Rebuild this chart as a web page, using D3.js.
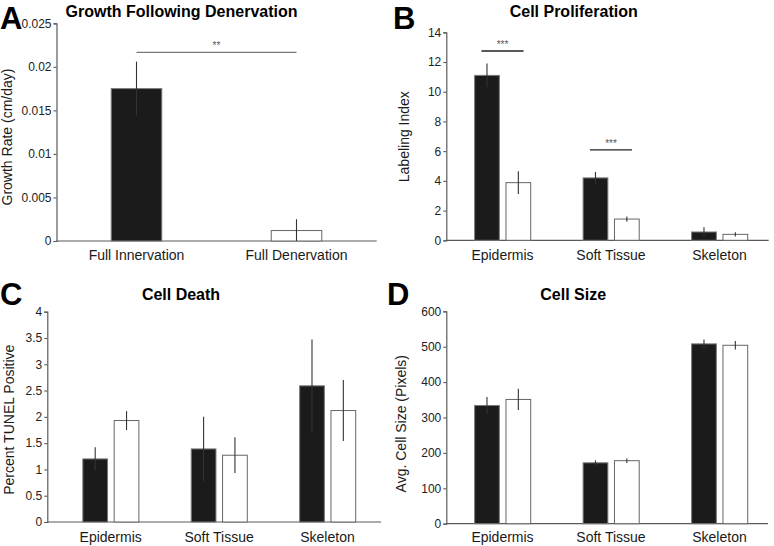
<!DOCTYPE html>
<html>
<head>
<meta charset="utf-8">
<script src="https://cdn.jsdelivr.net/npm/d3@7"></script>
<style>
  html, body { margin: 0; padding: 0; background: #fff; }
  svg { display: block; font-family: "Liberation Sans", Arial, sans-serif; }
</style>
</head>
<body>
<svg id="chart" width="774" height="546"></svg>
<script>
// ---------------- DATA ----------------
// Panel A
const growthCategories = ["Full Innervation", "Full Denervation"];
const growthMean = [0.0175, 0.0012];
const growthErr = [0.0031, 0.0013];
const growthTicks = [0, 0.005, 0.01, 0.015, 0.02, 0.025];
const growthTickLabels = ["0", "0.005", "0.01", "0.015", "0.02", "0.025"];

// Shared tissue categories
const tissueCategories = ["Epidermis", "Soft Tissue", "Skeleton"];

// Panel B
const prolifInnervated = [11.1, 4.2, 0.56];
const prolifInnervatedErr = [0.8, 0.4, 0.31];
const prolifDenervated = [3.88, 1.43, 0.40];
const prolifDenervatedErr = [0.77, 0.18, 0.14];
const prolifTicks = [0, 2, 4, 6, 8, 10, 12, 14];

// Panel C
const deathInnervated = [1.20, 1.39, 2.59];
const deathInnervatedErr = [0.22, 0.61, 0.88];
const deathDenervated = [1.93, 1.27, 2.12];
const deathDenervatedErr = [0.18, 0.34, 0.58];
const deathTicks = [0, 0.5, 1, 1.5, 2, 2.5, 3, 3.5, 4];

// Panel D
const sizeInnervated = [334, 172, 508];
const sizeInnervatedErr = [24, 7, 12];
const sizeDenervated = [351, 178, 504];
const sizeDenervatedErr = [30, 6.5, 12];
const sizeTicks = [0, 100, 200, 300, 400, 500, 600];

// ---------------- DRAWING ----------------
const svg = d3.select("#chart");
const BAR_DARK = "#1b1b1b";
const DARK_STROKE = "#7a7a7a";
const WHITE_STROKE = "#666";
const AXIS_COL = "#5a5a5a";
const TEXT_COL = "#1a1a1a";

function drawPanel(cfg) {
  const g = svg.append("g");
  const y = d3.scaleLinear().domain(cfg.yDomain).range([cfg.y0, cfg.yTop]);
  const x = d3.scaleBand().domain(cfg.categories).range(cfg.bandRange).padding(0);
  const bw = x.bandwidth();

  // panel letter
  g.append("text").attr("x", cfg.letterX).attr("y", cfg.letterY)
    .attr("font-size", 31).attr("font-weight", "bold").attr("fill", "#000")
    .text(cfg.letter);

  // title
  g.append("text").attr("x", cfg.titleX).attr("y", cfg.titleY)
    .attr("text-anchor", "middle").attr("font-size", 16).attr("font-weight", "bold")
    .attr("fill", "#000").text(cfg.title);

  // y axis
  const yAxis = d3.axisLeft(y).tickValues(cfg.ticks).tickSize(3).tickPadding(2)
    .tickFormat((d, i) => cfg.tickLabels ? cfg.tickLabels[i] : d3.format("")(d));
  const ya = g.append("g").attr("transform", `translate(${cfg.axisX},0)`).call(yAxis);
  ya.select(".domain").attr("stroke", AXIS_COL).attr("stroke-width", 1.2);
  ya.selectAll(".tick line").attr("stroke", AXIS_COL).attr("stroke-width", 1.1);
  ya.selectAll(".tick text").attr("font-size", 12).attr("fill", "#222")
    .attr("font-family", "Liberation Sans, Arial, sans-serif");

  // x axis line
  g.append("line").attr("x1", cfg.axisX).attr("x2", cfg.axisXEnd)
    .attr("y1", y(0)).attr("y2", y(0))
    .attr("stroke", AXIS_COL).attr("stroke-width", 1.2);

  // x labels
  g.selectAll("text.xl").data(cfg.categories).enter().append("text")
    .attr("class", "xl")
    .attr("x", d => x(d) + bw / 2).attr("y", cfg.xLabelY)
    .attr("text-anchor", "middle").attr("font-size", 14).attr("fill", TEXT_COL)
    .text(d => d);

  // y title
  g.append("text")
    .attr("transform", `translate(${cfg.yTitleX},${cfg.yTitleY}) rotate(-90)`)
    .attr("dy", "0.35em").attr("text-anchor", "middle").attr("font-size", 14)
    .attr("fill", TEXT_COL).text(cfg.yTitle);

  // bars
  cfg.series.forEach(s => {
    const w = bw * cfg.barFrac;
    const cx = d => x(d) + bw / 2 + s.offset * bw;
    const rows = cfg.categories.map((c, i) => ({
      c, v: s.values[i], e: s.err[i],
      fill: Array.isArray(s.fill) ? s.fill[i] : s.fill,
      stroke: Array.isArray(s.stroke) ? s.stroke[i] : s.stroke
    }));
    g.selectAll(null).data(rows).enter().append("rect")
      .attr("x", d => cx(d.c) - w / 2).attr("width", w)
      .attr("y", d => y(d.v)).attr("height", d => y(0) - y(d.v))
      .attr("fill", d => d.fill).attr("stroke", d => d.stroke).attr("stroke-width", 1);
    g.selectAll(null).data(rows).enter().append("line")
      .attr("x1", d => cx(d.c)).attr("x2", d => cx(d.c))
      .attr("y1", d => y(d.v + d.e)).attr("y2", d => y(Math.max(0, d.v - d.e)))
      .attr("stroke", "#333").attr("stroke-width", 1.1);
  });

  // significance markers
  (cfg.sig || []).forEach(s => {
    const xa = s.from !== undefined ? x(cfg.categories[s.from]) + bw / 2 : x(cfg.categories[s.cat]) + bw / 2 - s.half * bw;
    const xb = s.to !== undefined ? x(cfg.categories[s.to]) + bw / 2 : x(cfg.categories[s.cat]) + bw / 2 + s.half * bw;
    g.append("line").attr("x1", xa).attr("x2", xb).attr("y1", y(s.value)).attr("y2", y(s.value))
      .attr("stroke", s.color).attr("stroke-width", 1.3);
    g.append("text").attr("x", (xa + xb) / 2).attr("y", y(s.value) - 3)
      .attr("text-anchor", "middle").attr("font-size", 10).attr("fill", "#555")
      .text(s.label);
  });
}

// Panel A
drawPanel({
  letter: "A", letterX: 0, letterY: 28.5,
  title: "Growth Following Denervation", titleX: 181.5, titleY: 17,
  categories: growthCategories,
  yDomain: [0, 0.025], y0: 241, yTop: 23.3,
  ticks: growthTicks, tickLabels: growthTickLabels,
  axisX: 56.5, axisXEnd: 376.7, bandRange: [56.5, 376.5],
  xLabelY: 260,
  yTitle: "Growth Rate (cm/day)", yTitleX: 7, yTitleY: 137,
  barFrac: 0.316,
  series: [
    { values: growthMean, err: growthErr, fill: [BAR_DARK, "#fff"], stroke: [DARK_STROKE, WHITE_STROKE], offset: 0 }
  ],
  sig: [{ from: 0, to: 1, value: 0.02167, label: "**", color: "#777" }]
});

// Panel B
drawPanel({
  letter: "B", letterX: 393, letterY: 28.5,
  title: "Cell Proliferation", titleX: 573.7, titleY: 17,
  categories: tissueCategories,
  yDomain: [0, 14], y0: 240.3, yTop: 32.3,
  ticks: prolifTicks,
  axisX: 446.3, axisXEnd: 768.7, bandRange: [448.25, 773.75],
  xLabelY: 260,
  yTitle: "Labeling Index", yTitleX: 404.5, yTitleY: 136.7,
  barFrac: 0.228,
  series: [
    { values: prolifInnervated, err: prolifInnervatedErr, fill: BAR_DARK, stroke: DARK_STROKE, offset: -0.143 },
    { values: prolifDenervated, err: prolifDenervatedErr, fill: "#fff", stroke: WHITE_STROKE, offset: 0.146 }
  ],
  sig: [
    { cat: 0, half: 0.194, value: 12.74, label: "***", color: "#222" },
    { cat: 1, half: 0.194, value: 6.08, label: "***", color: "#222" }
  ]
});

// Panel C
drawPanel({
  letter: "C", letterX: 0, letterY: 305,
  title: "Cell Death", titleX: 181, titleY: 299.7,
  categories: tissueCategories,
  yDomain: [0, 4], y0: 522, yTop: 311.7,
  ticks: deathTicks,
  axisX: 47.3, axisXEnd: 381, bandRange: [56.5, 381.7],
  xLabelY: 542,
  yTitle: "Percent TUNEL Positive", yTitleX: 9, yTitleY: 419.7,
  barFrac: 0.228,
  series: [
    { values: deathInnervated, err: deathInnervatedErr, fill: BAR_DARK, stroke: DARK_STROKE, offset: -0.143 },
    { values: deathDenervated, err: deathDenervatedErr, fill: "#fff", stroke: WHITE_STROKE, offset: 0.146 }
  ]
});

// Panel D
drawPanel({
  letter: "D", letterX: 387, letterY: 305,
  title: "Cell Size", titleX: 573.2, titleY: 299.7,
  categories: tissueCategories,
  yDomain: [0, 600], y0: 523.7, yTop: 311.3,
  ticks: sizeTicks,
  axisX: 446.3, axisXEnd: 768, bandRange: [448.25, 773.75],
  xLabelY: 542,
  yTitle: "Avg. Cell Size (Pixels)", yTitleX: 401.5, yTitleY: 423.7,
  barFrac: 0.228,
  series: [
    { values: sizeInnervated, err: sizeInnervatedErr, fill: BAR_DARK, stroke: DARK_STROKE, offset: -0.143 },
    { values: sizeDenervated, err: sizeDenervatedErr, fill: "#fff", stroke: WHITE_STROKE, offset: 0.146 }
  ]
});
</script>
</body>
</html>
